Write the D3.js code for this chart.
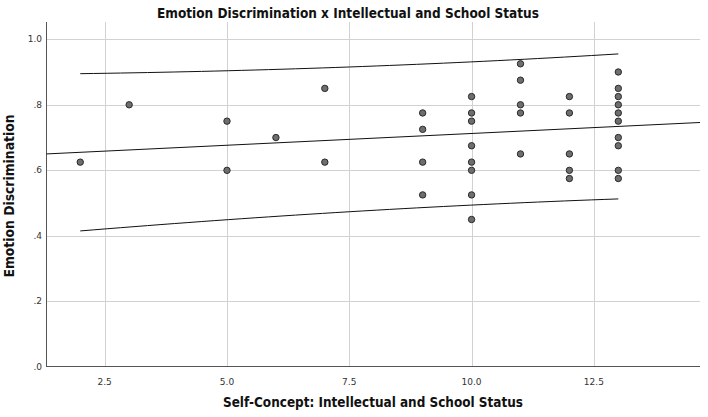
<!DOCTYPE html>
<html>
<head>
<meta charset="utf-8">
<script src="https://cdn.jsdelivr.net/npm/d3@7"></script>
<style>
  body { margin: 0; background: #fff; }
  .grid line { stroke: #d2d2d2; stroke-width: 1; }
  .tick-label { font-family: "DejaVu Sans", sans-serif; font-size: 9px; fill: #333; }
  .axis-title { font-family: "Liberation Sans Narrow", "DejaVu Sans Condensed", sans-serif; font-weight: bold; font-size: 14.5px; fill: #111; }
</style>
</head>
<body>
<div id="chart"></div>
<script>
// scores, one entry per visible dot
var selfConcept = [2, 3, 5, 5, 6, 7, 7,
    9, 9, 9, 9,
    10, 10, 10, 10, 10, 10, 10, 10,
    11, 11, 11, 11, 11,
    12, 12, 12, 12, 12,
    13, 13, 13, 13, 13, 13, 13, 13, 13, 13];
var emotionDisc = [0.625, 0.80, 0.75, 0.60, 0.70, 0.85, 0.625,
    0.775, 0.725, 0.625, 0.525,
    0.825, 0.775, 0.75, 0.675, 0.625, 0.60, 0.525, 0.45,
    0.925, 0.875, 0.80, 0.775, 0.65,
    0.825, 0.775, 0.65, 0.60, 0.575,
    0.90, 0.85, 0.825, 0.80, 0.775, 0.75, 0.70, 0.675, 0.60, 0.575];

var xTicks = [2.5, 5.0, 7.5, 10.0, 12.5];
var yTicks = [0, 0.2, 0.4, 0.6, 0.8, 1.0];

// fit line (intercept, slope) and t*s of the 95% prediction band
var fitLine = [0.6406, 0.00718];
var bandTS = 0.2157;

var width = 708,
    height = 417;

var svg = d3.select("#chart")
    .append("svg")
    .attr("width", width)
    .attr("height", height);

var x = d3.scaleLinear()
    .domain([1.31, 14.67])
    .range([46.5, 700]);

var y = d3.scaleLinear()
    .domain([0, 1.0525])
    .range([367, 22]);

// grid
var grid = svg.append("g").attr("class", "grid");
grid.selectAll(".gx")
    .data(xTicks)
    .enter()
    .append("line")
    .attr("x1", function(d) { return Math.round(x(d)) + 0.5; })
    .attr("x2", function(d) { return Math.round(x(d)) + 0.5; })
    .attr("y1", y.range()[1])
    .attr("y2", y.range()[0]);
grid.selectAll(".gy")
    .data(yTicks.filter(function(d) { return d > 0; }))
    .enter()
    .append("line")
    .attr("x1", x.range()[0])
    .attr("x2", x.range()[1])
    .attr("y1", function(d) { return Math.round(y(d)) + 0.5; })
    .attr("y2", function(d) { return Math.round(y(d)) + 0.5; });

// axis lines
svg.append("line")
    .attr("x1", 46.5).attr("x2", 46.5)
    .attr("y1", y.range()[1]).attr("y2", 367)
    .attr("stroke", "#555");
svg.append("line")
    .attr("x1", 46.5).attr("x2", 700)
    .attr("y1", 366.5).attr("y2", 366.5)
    .attr("stroke", "#555");

// tick labels
svg.append("g")
    .selectAll("text")
    .data(xTicks)
    .enter()
    .append("text")
    .attr("class", "tick-label")
    .attr("x", function(d) { return x(d); })
    .attr("y", 385)
    .attr("text-anchor", "middle")
    .text(d3.format(".1f"));

svg.append("g")
    .selectAll("text")
    .data(yTicks)
    .enter()
    .append("text")
    .attr("class", "tick-label")
    .attr("x", 42)
    .attr("y", function(d) { return y(d) + 3; })
    .attr("text-anchor", "end")
    .text(function(d) { return d3.format(".1f")(d).replace(/^0/, ""); });

// prediction band
var n = selfConcept.length,
    xMean = d3.mean(selfConcept),
    sxx = d3.sum(selfConcept, function(d) { return (d - xMean) * (d - xMean); });

function fit(v) { return fitLine[0] + fitLine[1] * v; }
function half(v) { return bandTS * Math.sqrt(1 + 1 / n + (v - xMean) * (v - xMean) / sxx); }

var xMin = d3.min(selfConcept),
    xMax = d3.max(selfConcept);
var steps = d3.range(0, 41).map(function(i) { return xMin + (xMax - xMin) * i / 40; });

var line = d3.line()
    .x(function(d) { return x(d[0]); })
    .y(function(d) { return y(d[1]); });

svg.append("path")
    .attr("d", line(steps.map(function(v) { return [v, fit(v) + half(v)]; })))
    .attr("fill", "none").attr("stroke", "#111").attr("stroke-width", 1);
svg.append("path")
    .attr("d", line(steps.map(function(v) { return [v, fit(v) - half(v)]; })))
    .attr("fill", "none").attr("stroke", "#111").attr("stroke-width", 1);
svg.append("path")
    .attr("d", line(x.domain().map(function(v) { return [v, fit(v)]; })))
    .attr("fill", "none").attr("stroke", "#111").attr("stroke-width", 1);

// points
svg.append("g")
    .selectAll("circle")
    .data(selfConcept)
    .enter()
    .append("circle")
    .attr("cx", function(d) { return x(d); })
    .attr("cy", function(d, i) { return y(emotionDisc[i]); })
    .attr("r", 3.2)
    .attr("fill", "#6e6e6e")
    .attr("stroke", "#2a2a2a")
    .attr("stroke-width", 1);

// titles
svg.append("text")
    .attr("class", "axis-title")
    .attr("x", 348)
    .attr("y", 17.5)
    .attr("text-anchor", "middle")
    .attr("textLength", 382)
    .attr("lengthAdjust", "spacingAndGlyphs")
    .text("Emotion Discrimination x Intellectual and School Status");

svg.append("text")
    .attr("class", "axis-title")
    .attr("x", 373)
    .attr("y", 407)
    .attr("text-anchor", "middle")
    .attr("textLength", 300)
    .attr("lengthAdjust", "spacingAndGlyphs")
    .text("Self-Concept: Intellectual and School Status");

svg.append("text")
    .attr("class", "axis-title")
    .attr("transform", "translate(14,196) rotate(-90)")
    .attr("text-anchor", "middle")
    .attr("textLength", 163)
    .attr("lengthAdjust", "spacingAndGlyphs")
    .text("Emotion Discrimination");
</script>
</body>
</html>
